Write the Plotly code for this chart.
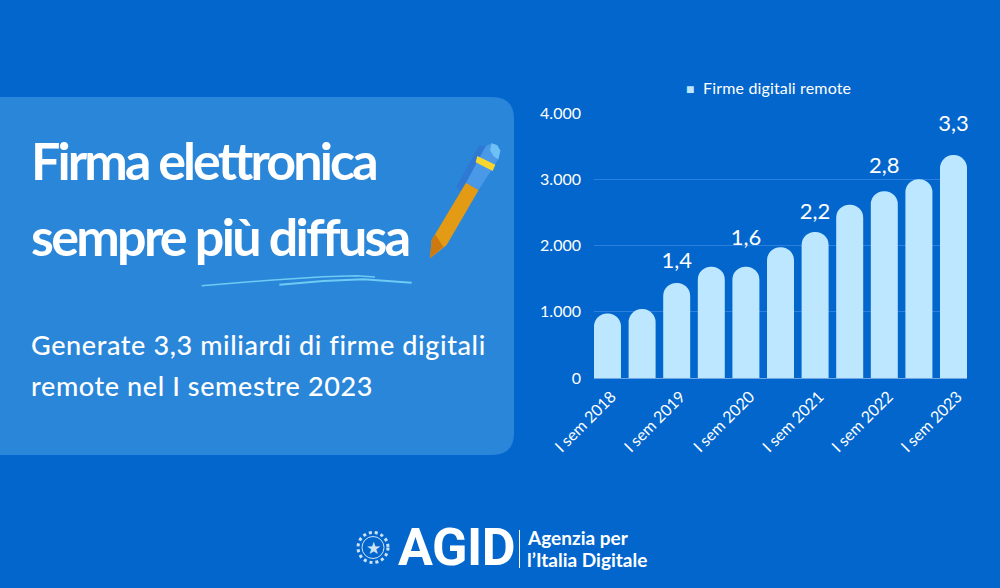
import plotly.graph_objects as go

W, H = 1000, 588
BG = "#0266CC"
PANEL = "#2A86D9"
BAR = "#BDE7FF"

categories = ["I sem 2018", "II sem 2018", "I sem 2019", "II sem 2019", "I sem 2020", "II sem 2020",
              "I sem 2021", "II sem 2021", "I sem 2022", "II sem 2022", "I sem 2023"]
firme = [975, 1040, 1435, 1680, 1680, 1975, 2205, 2615, 2820, 3000, 3365]
shown_ticks = ["I sem 2018", "I sem 2019", "I sem 2020", "I sem 2021", "I sem 2022", "I sem 2023"]
label_cats = ["I sem 2019", "I sem 2020", "I sem 2021", "I sem 2022", "I sem 2023"]
label_text = ["1,4", "1,6", "2,2", "2,8", "3,3"]
label_pos = [1745, 2090, 2480, 3170, 3815]
series_name = "Firme digitali remote"

def px(x): return x / W
def py(y): return 1 - y / H

def poly(points, color, **kw):
    d = "M" + " L".join(f"{px(x):.5f},{py(y):.5f}" for x, y in points) + " Z"
    return dict(type="path", xref="paper", yref="paper", path=d, fillcolor=color,
                line=dict(width=0), layer=kw.get("layer", "above"))

def stroke(points, color, width):
    d = "M" + " L".join(f"{px(x):.5f},{py(y):.5f}" for x, y in points)
    return dict(type="path", xref="paper", yref="paper", path=d, line=dict(color=color, width=width))

def z(pts):  # crop coordinates of the pen / underline region to page pixels
    return [(190 + a / 3, 130 + b / 3) for a, b in pts]

def text(x, y, s, size, family="Lato", weight=400, anchor="left", color="white", spacing=None):
    if spacing is not None:
        s = f'<span style="letter-spacing:{spacing}px">{s}</span>'
    return dict(x=px(x), y=py(y), xref="paper", yref="paper", text=s, showarrow=False,
                xanchor=anchor, yanchor="middle", align="left",
                font=dict(family=family, size=size, color=color, weight=weight))

fig = go.Figure()
fig.add_bar(x=categories, y=firme, name=series_name, marker=dict(color=BAR, cornerradius=13,
            line=dict(width=0)), width=0.78, showlegend=False, hoverinfo="skip")
fig.add_scatter(x=label_cats, y=label_pos, text=label_text, mode="text", textposition="middle center",
                textfont=dict(family="Lato", size=22, color="white"), showlegend=False,
                hoverinfo="skip", cliponaxis=False)

# panel with rounded right corners
r = 22
panel_d = (f"M0,{py(97):.5f} L{px(514-r):.5f},{py(97):.5f} Q{px(514):.5f},{py(97):.5f} {px(514):.5f},{py(97+r):.5f} "
           f"L{px(514):.5f},{py(455-r):.5f} Q{px(514):.5f},{py(455):.5f} {px(514-r):.5f},{py(455):.5f} L0,{py(455):.5f} Z")
shapes = [dict(type="path", xref="paper", yref="paper", path=panel_d, fillcolor=PANEL,
               line=dict(width=0), layer="below")]

# pen
shapes += [
    poly(z([(798, 172), (868, 45), (885, 48), (815, 182)]), "#2F78D4"),
    poly(z([(720, 385), (725, 330), (828, 158), (866, 180), (770, 345)]), "#E39A14"),
    poly(z([(720, 385), (725, 330), (735, 313), (760, 350)]), "#CC7A10"),
    poly(z([(828, 158), (866, 180), (925, 88), (931, 62), (922, 46), (905, 40), (888, 48)]), "#4A98E8"),
    poly(z([(905, 40), (922, 46), (931, 62), (925, 88), (912, 80), (900, 60)]), "#6FC0F5"),
    poly(z([(862, 78), (916, 104), (908, 123), (857, 97)]), "#F7D62E"),
]
# underline strokes
shapes += [
    stroke(z([(35, 467), (250, 450), (400, 440), (500, 437), (555, 441)]), "#6FCBF3", 1.5),
    stroke(z([(268, 464), (400, 453), (520, 448), (665, 458)]), "#6FCBF3", 2),
]
# logo: divider and emblem
shapes += [
    dict(type="line", xref="paper", yref="paper", x0=px(519.5), x1=px(519.5), y0=py(530), y1=py(568),
         line=dict(color="white", width=1)),
    dict(type="circle", xref="paper", yref="paper", x0=px(358), x1=px(388), y0=py(532.5), y1=py(562.5),
         line=dict(color="#CFE3F7", width=3, dash="dot")),
    dict(type="circle", xref="paper", yref="paper", x0=px(362), x1=px(384), y0=py(536.5), y1=py(558.5),
         line=dict(color="#CFE3F7", width=1)),
]

annotations = [
    text(29, 160, "Firma elettronica", 52, weight=700, spacing=-2.9),
    text(29, 236, "sempre più diffusa", 52, weight=700, spacing=-2.7),
    text(29, 344, "Generate 3,3 miliardi di firme digitali", 27, weight=500, spacing=0.6),
    text(29, 385, "remote nel I semestre 2023", 27, weight=500, spacing=0.6),
    text(396, 547, "AGID", 52, family="Roboto", weight=700, spacing=-0.5),
    text(525, 537, "Agenzia per", 19, family="Lato", weight=700),
    text(525, 559, "l’Italia Digitale", 19, family="Lato", weight=700),
    text(373, 547.5, "★", 17, family="DejaVu Sans", anchor="center", color="#CFE3F7"),
    text(684, 87.5, f'<span style="color:{BAR};font-size:14px">■</span>  {series_name}', 16, weight=400, spacing=0.15),
]

fig.update_layout(
    width=W, height=H, margin=dict(l=0, r=0, t=0, b=0, pad=0, autoexpand=False),
    paper_bgcolor=BG, plot_bgcolor=BG, separators=",.",
    shapes=shapes, annotations=annotations, showlegend=False,
    xaxis=dict(domain=[px(594), px(967)], type="category", categoryorder="array", categoryarray=categories,
               range=[-0.39, 10.39], tickmode="array", tickvals=shown_ticks, ticktext=shown_ticks,
               tickangle=-45, showgrid=False, showline=True, linecolor="#6FA8E6", linewidth=1,
               ticks="", ticklabelstandoff=2, ticklabelshift=4,
               tickfont=dict(family="Lato", size=16, color="white")),
    yaxis=dict(domain=[py(378), py(113)], range=[0, 4000], tickvals=[0, 1000, 2000, 3000, 4000],
               tickformat=",d", showgrid=True, gridcolor="#2A80DC", gridwidth=1, zeroline=False,
               ticks="", ticklabelstandoff=12,
               tickfont=dict(family="Lato", size=16, color="white")),
)
fig.write_html("out.html", config={"displayModeBar": False},
               post_script="document.body.style.margin='0';")
